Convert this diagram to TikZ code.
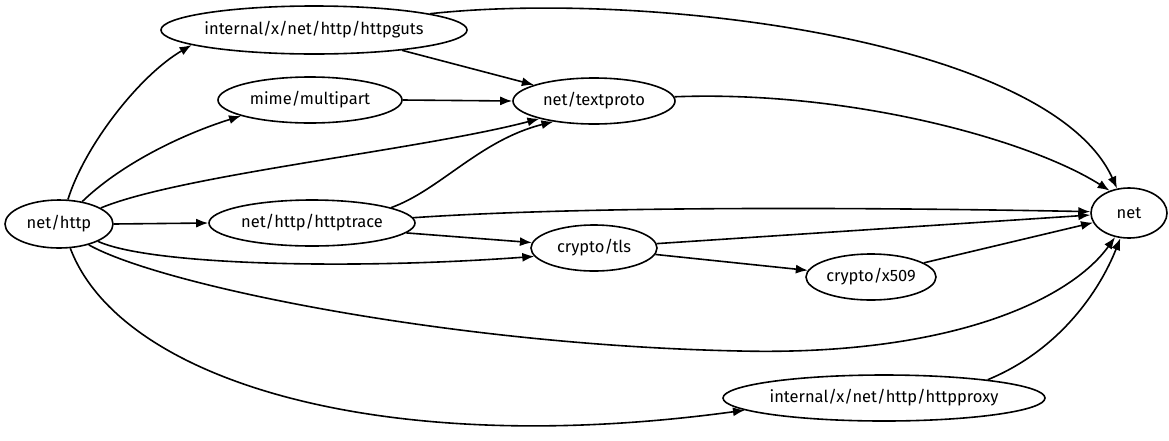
\documentclass[tikz,border=0pt]{standalone}
\usepackage{fontspec}
\setmainfont{Fira Sans}
\usetikzlibrary{shapes.geometric,arrows.meta}
\tikzset{
  pkg/.style={draw, ellipse, line width=1.6pt, inner sep=0pt, font=\fontsize{16.5}{20}\selectfont},
  dep/.style={line width=1.6pt, -{Latex[length=12pt,width=9pt]}},
}
\newcommand{\lbl}[1]{\makebox[0pt]{#1}}
\begin{document}
\begin{tikzpicture}[x=1pt,y=-1pt]
\useasboundingbox (0,0) rectangle (1169,440);
\node[pkg, minimum width=108pt, minimum height=48pt] (nethttp) at (59,224) {\lbl{net/http}};
\node[pkg, minimum width=306pt, minimum height=48pt] (httpguts) at (314,30) {\lbl{internal/x/net/http/httpguts}};
\node[pkg, minimum width=184pt, minimum height=46pt] (mime) at (310,100) {\lbl{mime/multipart}};
\node[pkg, minimum width=162pt, minimum height=46pt] (textproto) at (594,101) {\lbl{net/textproto}};
\node[pkg, minimum width=206pt, minimum height=46pt] (httptrace) at (312,223) {\lbl{net/http/httptrace}};
\node[pkg, minimum width=76pt, minimum height=50pt] (net) at (1129,213) {\lbl{net}};
\node[pkg, minimum width=126pt, minimum height=46pt] (tls) at (594,248) {\lbl{crypto/tls}};
\node[pkg, minimum width=130pt, minimum height=46pt] (x509) at (871,277) {\lbl{crypto/x509}};
\node[pkg, minimum width=322pt, minimum height=46pt] (httpproxy) at (884,398) {\lbl{internal/x/net/http/httpproxy}};

\draw[dep] (nethttp.70) .. controls (85,145) and (140,75) .. (httpguts.187.5);
\draw[dep] (nethttp.44) .. controls (120,165) and (180,135) .. (mime.193);
\draw[dep] (nethttp.21.6) .. controls (180,175) and (420,150) .. (textproto.198);
\draw[dep] (nethttp.0) -- (httptrace.180);
\draw[dep] (nethttp.336.5) .. controls (150,265) and (350,270) .. (tls.188);
\draw[dep] (nethttp.325) .. controls (160,285) and (450,345) .. (740,351)
  .. controls (950,356) and (1070,300) .. (net.240);
\draw[dep] (nethttp.295) .. controls (120,380) and (380,460) .. (httpproxy.185);
\draw[dep] (httpguts.347.5) -- (textproto.165);
\draw[dep] (httpguts.8.4) .. controls (650,-10) and (1050,40) .. (net.116);
\draw[dep] (mime.0) -- (textproto.180);
\draw[dep] (textproto.3) .. controls (850,90) and (1030,140) .. (net.131);
\draw[dep] (httptrace.11) .. controls (440,190) and (480,140) .. (textproto.207);
\draw[dep] (httptrace.3.3) .. controls (600,205) and (900,208) .. (net.178.5);
\draw[dep] (httptrace.354.4) -- (tls.175);
\draw[dep] (tls.4.5) -- (net.183);
\draw[dep] (tls.354.5) -- (x509.174);
\draw[dep] (x509.15.5) -- (net.195);
\draw[dep] (httpproxy.10) .. controls (1060,350) and (1100,290) .. (net.251.5);
\end{tikzpicture}
\end{document}
